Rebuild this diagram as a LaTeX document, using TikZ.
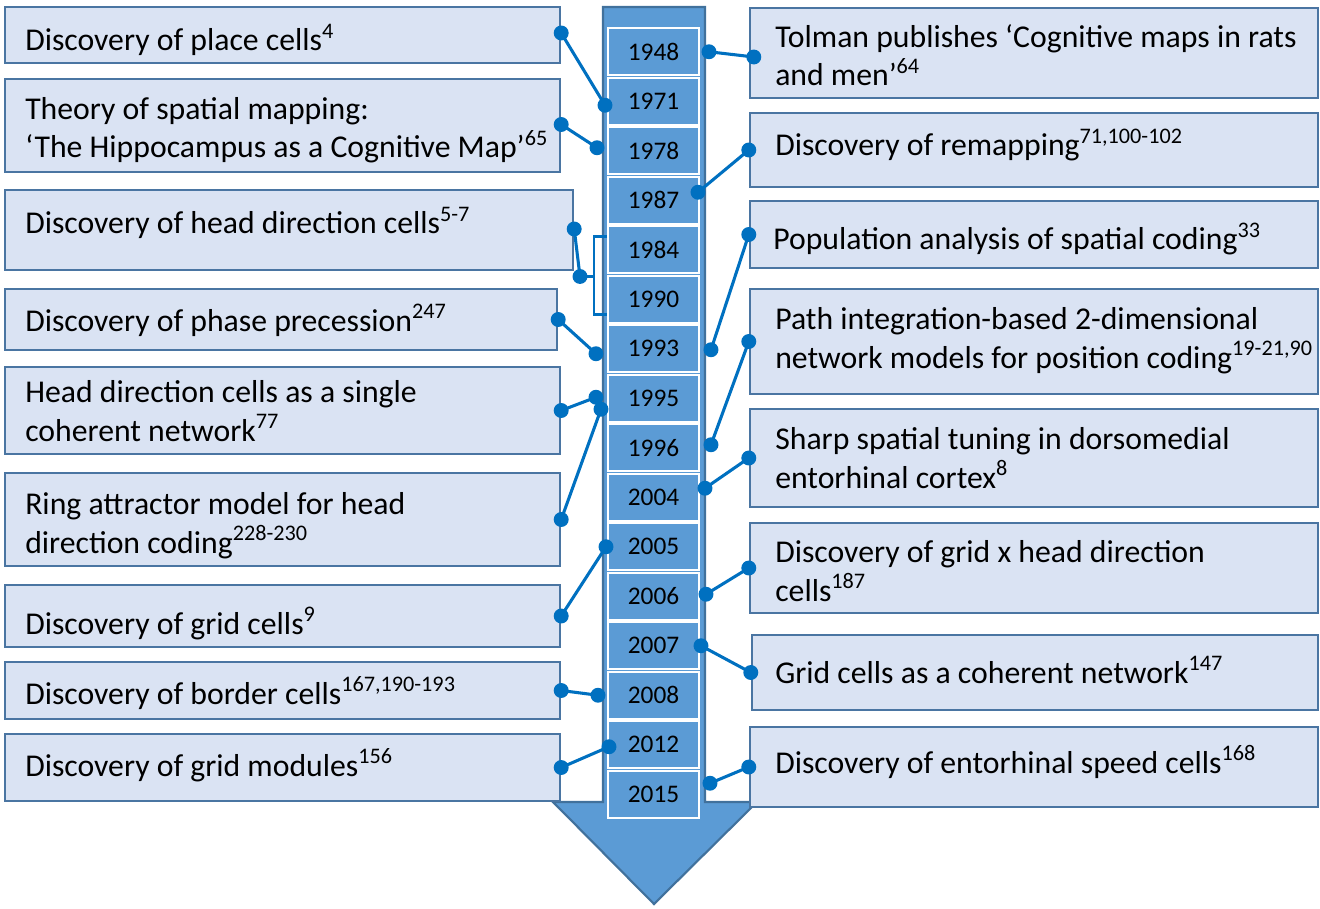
\documentclass[tikz,border=0pt]{standalone}
\usepackage{fontspec}
\setmainfont{Carlito}
\usetikzlibrary{calc,fit}
\definecolor{boxFill}{HTML}{DAE3F3}
\definecolor{boxBd}{HTML}{4A75A2}
\definecolor{shaftFill}{HTML}{5B9BD5}
\definecolor{shaftBd}{HTML}{41719C}
\definecolor{linkBlue}{HTML}{0070C0}
\newcommand\evfont{\fontsize{23.8}{29}\selectfont}
\newcommand\yrfont{\fontsize{19}{22}\selectfont}
% connector with a dot at each end
\newcommand\tie[2]{%
  \draw[conn] (#1) -- (#2);
  \fill[linkBlue] (#1) circle (5.6pt) (#2) circle (5.6pt);}
\tikzset{
  evbox/.style={rectangle, draw=boxBd, fill=boxFill, line width=1.8pt, inner sep=0pt},
  evtext/.style={anchor=base west, inner sep=0pt, align=left, font=\evfont},
  year/.style={rectangle, draw=white, fill=shaftFill, line width=1.5pt,
    minimum width=68.25pt, minimum height=35.6pt, inner sep=0pt, font=\yrfont},
  conn/.style={draw=linkBlue, line width=2.3pt},
  bkt/.style={draw=linkBlue, line width=2.1pt}
}
\begin{document}
\begin{tikzpicture}[x=0.75pt, y=-0.75pt]
  \useasboundingbox (0,0) rectangle (1320,909);

  % --- timeline arrow
  \draw[fill=shaftFill, draw=shaftBd, line width=1.6pt]
    (603,7) -- (705,7) -- (705,802) -- (757,802) -- (654,904)
    -- (553,802) -- (603,802) -- cycle;
  \foreach \yr [count=\i from 0] in {1948,1971,1978,1987,1984,1990,1993,1995,
      1996,2004,2005,2006,2007,2008,2012,2015}
    \node[year] (y\yr) at (653.5,{51.75+\i*49.5}) {\yr};

  % --- left column
  \node[evbox, fit={(5,7) (560,63)}]    (place)   {};
  \node[evbox, fit={(5,79) (560,172)}]  (theory)  {};
  \node[evbox, fit={(5,190) (573,270)}] (headdir) {};
  \node[evbox, fit={(5,289) (557,350)}] (phase)   {};
  \node[evbox, fit={(5,367) (560,454)}] (hdnet)   {};
  \node[evbox, fit={(5,473) (560,566)}] (ring)    {};
  \node[evbox, fit={(5,585) (560,647)}] (grid)    {};
  \node[evbox, fit={(5,662) (560,719)}] (border)  {};
  \node[evbox, fit={(5,734) (560,801)}] (modules) {};

  \node[evtext] (placeT)   at (25,51)  {Discovery of place cells\textsuperscript{4}};
  \node[evtext] (theoryT)  at (25,158) {Theory of spatial mapping:\\‘The Hippocampus as a Cognitive Map’\textsuperscript{65}};
  \node[evtext] (headdirT) at (25,234) {Discovery of head direction cells\textsuperscript{5-7}};
  \node[evtext] (phaseT)   at (25,331) {Discovery of phase precession\textsuperscript{247}};
  \node[evtext] (hdnetT)   at (25,441) {Head direction cells as a single\\coherent network\textsuperscript{77}};
  \node[evtext] (ringT)    at (25,553) {Ring attractor model for head\\direction coding\textsuperscript{228-230}};
  \node[evtext] (gridT)    at (25,634) {Discovery of grid cells\textsuperscript{9}};
  \node[evtext] (borderT)  at (25,704) {Discovery of border cells\textsuperscript{167,190-193}};
  \node[evtext] (modulesT) at (25,776) {Discovery of grid modules\textsuperscript{156}};

  % --- right column
  \node[evbox, fit={(750,8) (1318,98)}]   (tolman)  {};
  \node[evbox, fit={(750,113) (1318,187)}] (remap)   {};
  \node[evbox, fit={(750,201) (1318,268)}] (popul)   {};
  \node[evbox, fit={(750,289) (1318,394)}] (pathint) {};
  \node[evbox, fit={(750,409) (1318,507)}] (sharp)   {};
  \node[evbox, fit={(750,523) (1318,613)}] (gridhd)  {};
  \node[evbox, fit={(752,635) (1318,710)}] (gridnet) {};
  \node[evbox, fit={(750,727) (1318,807)}] (speed)   {};

  \node[evtext] (tolmanT)  at (775,86)  {Tolman publishes ‘Cognitive maps in rats\\and men’\textsuperscript{64}};
  \node[evtext] (remapT)   at (775,156) {Discovery of remapping\textsuperscript{71,100-102}};
  \node[evtext] (populT)   at (773,250) {Population analysis of spatial coding\textsuperscript{33}};
  \node[evtext] (pathintT) at (775,368) {Path integration-based 2-dimensional\\network models for position coding\textsuperscript{19-21,90}};
  \node[evtext] (sharpT)   at (775,488) {Sharp spatial tuning in dorsomedial\\entorhinal cortex\textsuperscript{8}};
  \node[evtext] (gridhdT)  at (775,601) {Discovery of grid x head direction\\cells\textsuperscript{187}};
  \node[evtext] (gridnetT) at (775,683) {Grid cells as a coherent network\textsuperscript{147}};
  \node[evtext] (speedT)   at (775,773) {Discovery of entorhinal speed cells\textsuperscript{168}};

  % --- bracket over 1984/1990
  \draw[bkt] ($(y1984.west)+(0,-13)$) -- ++(-13,0) |- ($(y1990.west)+(0,15)$);
  \draw[bkt] ($(y1984.south west)+(-13,2)$) -- ++(-14,0) coordinate (bkTip);

  % --- connectors
  \tie{$(place.east)+(0,-2)$}{$(y1971.west)+(-2,4)$}
  \tie{$(theory.east)+(0,-1)$}{$(y1978.west)+(-10,-3)$}
  \tie{$(headdir.east)+(0,-1)$}{bkTip}
  \tie{phase.east}{$(y1993.west)+(-11,5)$}
  \tie{hdnet.east}{$(y1995.west)+(-11,-1)$}
  \tie{ring.east}{$(y1995.west)+(-6,11)$}
  \tie{grid.east}{$(y2005.west)+(-1,0)$}
  \tie{border.east}{$(y2008.west)+(-9,0)$}
  \tie{modules.east}{$(y2012.west)+(2,2)$}

  \tie{$(y1948.east)+(9,0)$}{$(tolman.west)+(5,4)$}
  \tie{$(y1987.east)+(-2,-8)$}{remap.west}
  \tie{$(y1993.east)+(11,1)$}{popul.west}
  \tie{$(y1996.east)+(11,-3)$}{pathint.west}
  \tie{$(y2004.east)+(5,-9)$}{sharp.west}
  \tie{$(y2006.east)+(6,-2)$}{gridhd.west}
  \tie{$(y2007.east)+(1,0)$}{gridnet.west}
  \tie{$(y2015.east)+(10,-11)$}{speed.west}
\end{tikzpicture}
\end{document}
